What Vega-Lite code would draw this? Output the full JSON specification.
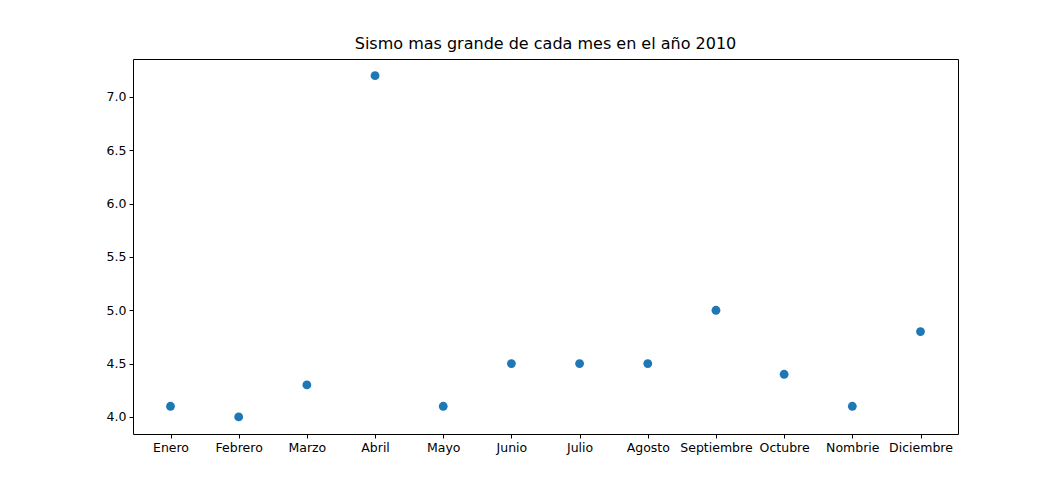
{
  "$schema": "https://vega.github.io/schema/vega-lite/v6.json",
  "width": 825,
  "height": 375,
  "autosize": {"type": "none"},
  "padding": {"left": 133, "top": 59, "right": 106, "bottom": 54},
  "background": "white",
  "title": {"text": "Sismo mas grande de cada mes en el año 2010", "font": "DejaVu Sans", "fontSize": 16, "fontWeight": "normal", "color": "black", "offset": 7},
  "data": {"values": [
    {"mes": "Enero", "mag": 4.1},
    {"mes": "Febrero", "mag": 4.0},
    {"mes": "Marzo", "mag": 4.3},
    {"mes": "Abril", "mag": 7.2},
    {"mes": "Mayo", "mag": 4.1},
    {"mes": "Junio", "mag": 4.5},
    {"mes": "Julio", "mag": 4.5},
    {"mes": "Agosto", "mag": 4.5},
    {"mes": "Septiembre", "mag": 5.0},
    {"mes": "Octubre", "mag": 4.4},
    {"mes": "Nombrie", "mag": 4.1},
    {"mes": "Diciembre", "mag": 4.8}
  ]},
  "mark": {"type": "circle", "size": 78, "color": "#1f77b4", "opacity": 1},
  "encoding": {
    "x": {"field": "mes", "type": "nominal", "sort": null, "title": null,
      "scale": {"type": "point", "padding": 0.55},
      "axis": {"labelAngle": 0, "grid": false, "domain": false}},
    "y": {"field": "mag", "type": "quantitative", "title": null,
      "scale": {"domain": [3.84, 7.356], "nice": false, "zero": false},
      "axis": {"values": [4.0, 4.5, 5.0, 5.5, 6.0, 6.5, 7.0], "format": ".1f", "grid": false, "domain": false}}
  },
  "config": {
    "view": {"stroke": "black", "strokeWidth": 1},
    "axis": {"labelFont": "DejaVu Sans", "labelFontSize": 12.5, "labelColor": "black", "tickColor": "black", "tickSize": 4, "labelPadding": 3}
  }
}
